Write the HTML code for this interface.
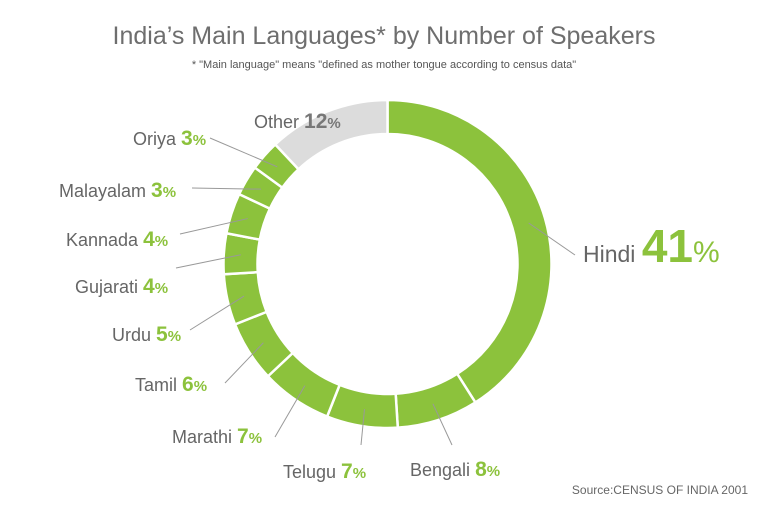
<!DOCTYPE html>
<html><head><meta charset="utf-8"><style>
body{margin:0;background:#fff;}
svg text{font-family:"Liberation Sans",sans-serif;}
</style></head><body>
<svg width="768" height="515" viewBox="0 0 768 515">
<text x="384" y="44" text-anchor="middle" font-size="25" fill="#6e6e6e">India’s Main Languages* by Number of Speakers</text>
<text x="384" y="68" text-anchor="middle" font-size="11" fill="#555">* "Main language" means "defined as mother tongue according to census data"</text>
<text x="748" y="494" text-anchor="end" font-size="12" fill="#666">Source:CENSUS OF INDIA 2001</text>
<g id="slices"></g>
<g id="labels"></g>
</svg>
<script>
const categories=["Hindi","Bengali","Telugu","Marathi","Tamil","Urdu","Gujarati","Kannada","Malayalam","Oriya","Other"];
const values=[41,8,7,7,6,5,4,4,3,3,12];
const labelAnchors=[[575,255],[452,445],[361,445],[275,437],[225,383],[190,330],[176,268],[180,234],[192,188],[210,138],null];
const labelPos=[[583,262,"start"],[410,476,"start"],[283,478,"start"],[172,443,"start"],[135,391,"start"],[112,341,"start"],[75,293,"start"],[66,246,"start"],[59,197,"start"],[133,145,"start"],[254,128,"start"]];
const cx=387.5,cy=264,R=164,r=130;
const NS="http://www.w3.org/2000/svg";
const total=values.reduce((a,b)=>a+b,0);
function pt(a,rad){return [cx+rad*Math.sin(a),cy-rad*Math.cos(a)];}
const gS=document.getElementById('slices'),gL=document.getElementById('labels');
let acc=0;
values.forEach((v,i)=>{
 const a0=acc/total*2*Math.PI,a1=(acc+v)/total*2*Math.PI;acc+=v;
 const p0=pt(a0,R),p1=pt(a1,R),q1=pt(a1,r),q0=pt(a0,r),lg=(a1-a0)>Math.PI?1:0;
 const p=document.createElementNS(NS,'path');
 p.setAttribute('d',`M${p0}A${R},${R} 0 ${lg} 1 ${p1}L${q1}A${r},${r} 0 ${lg} 0 ${q0}Z`);
 p.setAttribute('fill',categories[i]==="Other"?"#dcdcdc":"#8cc23c");
 p.setAttribute('stroke','#fff');p.setAttribute('stroke-width','2.5');
 
 
 gS.appendChild(p);
 const am=(a0+a1)/2;
 if(labelAnchors[i]){
  const s=pt(am,147);
  const l=document.createElementNS(NS,'line');
  l.setAttribute('x1',s[0]);l.setAttribute('y1',s[1]);
  l.setAttribute('x2',labelAnchors[i][0]);l.setAttribute('y2',labelAnchors[i][1]);
  l.setAttribute('stroke','#999');l.setAttribute('stroke-width','1');
  
  
  gL.appendChild(l);
 }
 const big=i===0;const other=categories[i]==="Other";
 const t=document.createElementNS(NS,'text');
 t.setAttribute('x',labelPos[i][0]);t.setAttribute('y',labelPos[i][1]);
 t.setAttribute('text-anchor',labelPos[i][2]);
 
 
 const col=other?"#777":"#8cc23c";
 t.innerHTML=`<tspan fill="#666" font-size="${big?23:18}">${categories[i]} </tspan><tspan fill="${col}" font-weight="bold" font-size="${big?46:21}">${v}</tspan><tspan fill="${col}" font-size="${big?30:15}" ${big?'':'font-weight="bold"'}>%</tspan>`;
 gL.appendChild(t);
});
</script>
</body></html>
